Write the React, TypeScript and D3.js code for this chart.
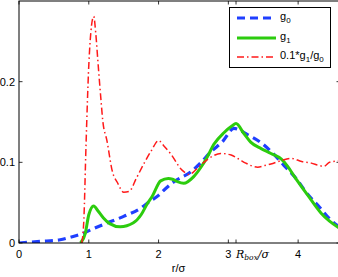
import React from 'react';
import * as d3 from 'd3';

// g0 (blue dashed)
const rG0 = [0, 0.3, 0.59, 0.73, 0.92, 1.02, 1.24, 1.5, 1.74, 1.88, 2.0, 2.07, 2.22, 2.46, 2.6, 2.75, 2.92, 3.08, 3.28, 3.49, 3.64, 3.8, 3.97, 4.14, 4.28, 4.45, 4.6];
const vG0 = [0, 0.002, 0.004, 0.007, 0.012, 0.016, 0.024, 0.033, 0.043, 0.052, 0.059, 0.065, 0.076, 0.088, 0.099, 0.113, 0.126, 0.142, 0.134, 0.123, 0.111, 0.096, 0.08, 0.06, 0.047, 0.03, 0.019];

// g1 (green solid)
const rG1 = [0.88, 0.95, 1.0, 1.07, 1.13, 1.21, 1.3, 1.45, 1.64, 1.75, 1.84, 1.91, 2.03, 2.14, 2.2, 2.27, 2.36, 2.5, 2.6, 2.7, 2.79, 2.94, 3.05, 3.11, 3.22, 3.32, 3.47, 3.61, 3.76, 3.85, 3.95, 4.14, 4.33, 4.45, 4.6];
const vG1 = [0, 0.012, 0.035, 0.046, 0.04, 0.031, 0.024, 0.02, 0.025, 0.035, 0.049, 0.058, 0.077, 0.08, 0.079, 0.076, 0.074, 0.082, 0.093, 0.107, 0.122, 0.137, 0.145, 0.148, 0.136, 0.125, 0.117, 0.111, 0.104, 0.095, 0.082, 0.059, 0.037, 0.027, 0.018];

// 0.1*g1/g0 (red dash-dot)
const rRatio = [0.9, 0.93, 0.96, 1.0, 1.04, 1.07, 1.1, 1.13, 1.175, 1.2, 1.26, 1.34, 1.41, 1.5, 1.58, 1.68, 1.8, 1.9, 2.0, 2.08, 2.17, 2.34, 2.44, 2.55, 2.65, 2.78, 2.89, 3.04, 3.15, 3.25, 3.42, 3.52, 3.61, 3.75, 3.9, 4.05, 4.19, 4.3, 4.37, 4.45, 4.6];
const vRatio = [0, 0.03, 0.12, 0.22, 0.27, 0.281, 0.26, 0.226, 0.177, 0.152, 0.127, 0.088, 0.075, 0.063, 0.064, 0.08, 0.1, 0.115, 0.127, 0.12, 0.111, 0.09, 0.085, 0.092, 0.1, 0.108, 0.111, 0.109, 0.104, 0.099, 0.094, 0.096, 0.098, 0.102, 0.105, 0.101, 0.099, 0.096, 0.095, 0.1, 0.102];

const xTicks = [0, 1, 2, 3, 4];
const yTicks = [0, 0.1, 0.2];
const rBox = 3.11;

const W = 338, H = 277;
const m = { left: 19, top: 1, right: 340, bottom: 243 };
const FONT = '"Liberation Sans", Arial, Helvetica, sans-serif';

export default function App() {
  const x = d3.scaleLinear().domain([0, 4.6]).range([m.left, m.right]);
  const y = d3.scaleLinear().domain([0, 0.3]).range([m.bottom, m.top]);
  const line = (rs: number[], vs: number[]) =>
    d3.line<number>().x((_, i) => x(rs[i])).y(d => y(d)).curve(d3.curveMonotoneX)(vs) || '';

  const tk = 3.5;
  const allX = [...xTicks, rBox];

  return (
    <svg width={W} height={H} style={{ position: 'fixed', left: 0, top: 0, background: '#fff' }}
      fontFamily={FONT}>
      <defs>
        <clipPath id="plot">
          <rect x={m.left} y={m.top} width={m.right - m.left} height={m.bottom - m.top} />
        </clipPath>
      </defs>
      <rect width={W} height={H} fill="#fff" />

      <g clipPath="url(#plot)" fill="none">
        <path d={line(rG0, vG0)} stroke="#1f3fff" strokeWidth={3.2} strokeDasharray="8,5" />
        <path d={line(rG1, vG1)} stroke="#2ccc0e" strokeWidth={3} strokeLinejoin="round" />
        <path d={line(rRatio, vRatio)} stroke="#ff1a1a" strokeWidth={1.5} strokeDasharray="7,3,1.5,3" />
      </g>

      {/* frame */}
      <rect x={m.left} y={m.top} width={m.right - m.left} height={m.bottom - m.top}
        fill="none" stroke="#000" strokeWidth={1} />

      {allX.map((t, i) => (
        <g key={'x' + i} stroke="#000" strokeWidth={0.8}>
          <line x1={x(t)} x2={x(t)} y1={m.bottom} y2={m.bottom - tk} />
          <line x1={x(t)} x2={x(t)} y1={m.top} y2={m.top + tk} />
        </g>
      ))}
      {yTicks.map((t, i) => (
        <g key={'y' + i} stroke="#000" strokeWidth={0.8}>
          <line x1={m.left} x2={m.left + tk} y1={y(t)} y2={y(t)} />
          <line x1={m.right} x2={m.right - tk} y1={y(t)} y2={y(t)} />
        </g>
      ))}

      {xTicks.map(t => (
        <text key={'xl' + t} x={x(t)} y={258} fontSize={11} textAnchor="middle">{t}</text>
      ))}
      {yTicks.map(t => (
        <text key={'yl' + t} x={15} y={y(t) + 4} fontSize={11} textAnchor="end">{t === 0 ? '0' : d3.format('.1f')(t)}</text>
      ))}

      <text x={x(rBox)} y={258} fontSize={11} fontFamily='"DejaVu Serif", "Liberation Serif", serif'>
        <tspan fontStyle="italic">R</tspan>
        <tspan fontStyle="italic" fontSize={7.5} dy={2}>box</tspan>
        <tspan fontStyle="italic" dy={-2}>/σ</tspan>
      </text>

      <text x={(m.left + W) / 2} y={272} fontSize={11} textAnchor="middle">r/σ</text>

      {/* legend */}
      <g>
        <rect x={229.5} y={7.5} width={101} height={60} fill="#fff" stroke="#000" strokeWidth={1} />
        <line x1={237} x2={276} y1={18} y2={18} stroke="#1f3fff" strokeWidth={3.2} strokeDasharray="8,5" />
        <line x1={237} x2={276} y1={38} y2={38} stroke="#2ccc0e" strokeWidth={3} />
        <line x1={237} x2={276} y1={57} y2={57} stroke="#ff1a1a" strokeWidth={1.5} strokeDasharray="7,3,1.5,3" />
        <text x={280} y={20} fontSize={11}>g<tspan fontSize={8} dy={3}>0</tspan></text>
        <text x={280} y={40} fontSize={11}>g<tspan fontSize={8} dy={3}>1</tspan></text>
        <text x={280} y={59} fontSize={11}>0.1*g<tspan fontSize={8} dy={3}>1</tspan><tspan dy={-3}>/g</tspan><tspan fontSize={8} dy={3}>0</tspan></text>
      </g>
    </svg>
  );
}
